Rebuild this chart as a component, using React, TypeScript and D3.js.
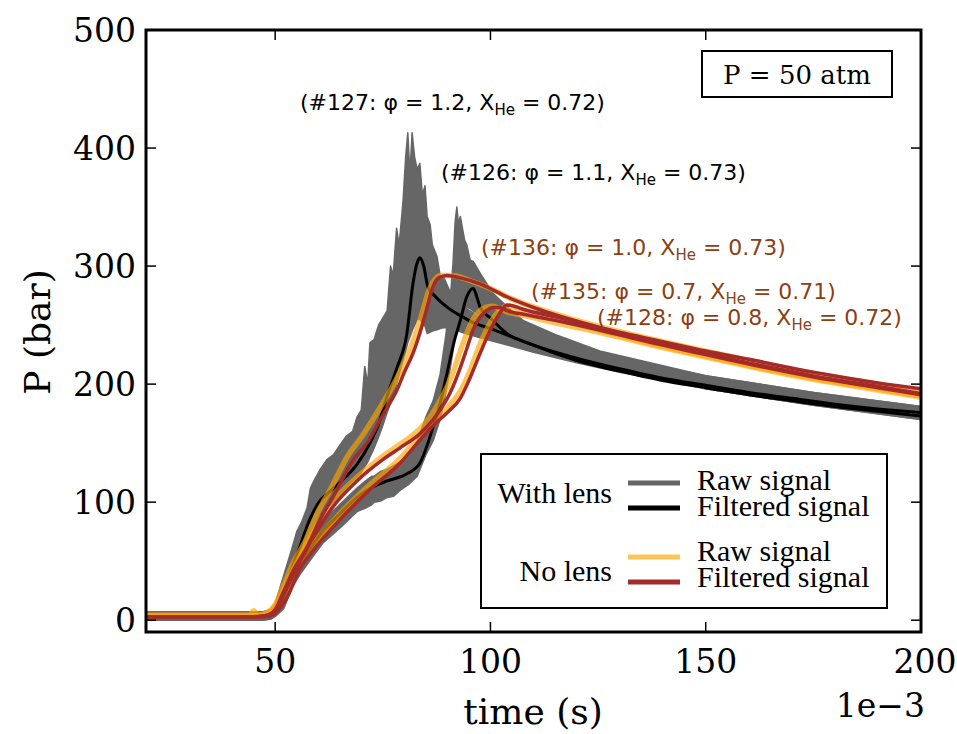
import React from "react";
import * as d3 from "d3";

// ---------- data (time in 1e-3 s, pressure in bar) ----------
const xTicks = [50, 100, 150, 200];
const yTicks = [0, 100, 200, 300, 400, 500];

// raw signals with lens: [time, lower, upper] envelope of the noisy trace
const raw127: [number, number, number][] = [
  [20, 0, 7], [47, 0, 7], [49, 1, 9], [50, 4, 14], [52, 14, 38], [54, 32, 62], [55, 40, 75], [56, 52, 82], [57.4, 62, 95],
  [58.2, 70, 112], [59, 78, 118], [60.5, 86, 128], [62, 95, 136], [63.5, 100, 140], [65, 106, 148], [66.5, 112, 156],
  [68, 118, 160], [69, 121, 172], [70, 125, 178], [70.8, 130, 215], [71.5, 134, 200], [72, 138, 235], [73, 146, 238],
  [74, 155, 250], [75, 165, 256], [76, 176, 262], [76.8, 184, 300], [77.4, 190, 292], [78.2, 200, 332], [78.8, 208, 318],
  [79.7, 220, 355], [80.3, 228, 392], [80.8, 235, 413], [81.3, 240, 378], [81.8, 245, 413], [82.4, 250, 392],
  [83, 255, 382], [83.6, 255, 387], [84.2, 252, 360], [84.8, 249, 368], [85.3, 243, 342], [86, 244, 335],
  [86.5, 245, 318], [87.6, 246, 308], [88.4, 247, 290], [89, 248, 292], [91, 247, 275], [94, 243, 265],
  [97, 240, 258], [100, 237, 253], [105, 232, 247], [110, 227, 241], [120, 218, 231], [130, 210, 222],
  [150, 196, 207], [175, 182, 193], [200, 170, 181],
];
const raw126: [number, number, number][] = [
  [20, 0, 7], [47, 0, 7], [49, 1, 8], [50, 3, 12], [52, 10, 28], [54, 28, 48], [56, 40, 62], [58, 50, 70],
  [61, 65, 84], [65, 78, 98], [69, 92, 112], [71, 95, 118], [72.5, 98, 122], [73, 100, 122], [74.5, 101, 126],
  [76, 104, 128], [77.5, 105, 131], [79, 110, 134], [81, 115, 140], [83, 122, 152], [85, 140, 172],
  [86.7, 152, 186], [88.3, 170, 208], [89.5, 190, 238], [90.5, 210, 265], [91.3, 228, 302], [91.8, 240, 338],
  [92.2, 250, 350], [92.6, 254, 335], [93, 258, 342], [94, 262, 322], [94.5, 265, 318], [95.3, 264, 305],
  [96, 262, 304], [97.6, 258, 294], [99, 254, 286], [100.6, 250, 277], [104, 244, 265], [107.6, 238, 254],
  [115, 228, 242], [125.4, 216, 228], [150, 196, 207], [175, 182, 193], [200, 170, 181],
];

// filtered signals with lens
const filt127: [number, number][] = [
  [20, 3], [45, 3], [48, 4], [50, 9], [52, 25], [54, 45], [56, 65], [58, 85], [60, 99], [63, 110], [66, 120],
  [69, 132], [72, 150], [74.3, 169], [76, 190], [78.3, 214], [80.6, 243], [82, 285], [83, 303], [83.6, 307],
  [84.5, 300], [85.5, 282], [87, 275], [90, 265], [93, 258], [96, 252], [100, 247], [105, 240], [110, 233],
  [120, 222], [130, 213], [140, 205], [150, 199], [160, 193], [170, 188], [180, 183], [190, 179], [200, 176],
];
const filt126: [number, number][] = [
  [20, 3], [45, 3], [48, 4], [49.5, 6], [51.8, 17], [54.2, 42], [57.4, 57], [61.2, 76], [65, 90], [69, 104],
  [72.7, 113], [76, 118], [80.6, 124], [83.6, 133], [86.7, 164], [88.3, 184], [89.9, 209], [91.5, 235], [93, 254],
  [94.5, 274], [96, 281], [97, 272], [97.6, 265], [100, 256], [103.8, 243], [110, 233], [120, 220], [130, 211],
  [140, 203], [150, 197], [160, 191], [170, 186], [180, 181], [190, 177], [200, 173],
];

// raw signals without lens
const raw136: [number, number][] = [
  [20, 4], [44, 4], [45, 8], [46, 4], [48, 6], [50, 13], [51.8, 28], [54, 47], [57, 67], [60, 92], [63, 112],
  [67, 140], [70, 155], [73, 172], [76, 190], [78, 203], [80, 218], [82, 236], [84, 258], [85.5, 277], [87, 288],
  [88.5, 292], [91, 292], [95, 288], [100, 281], [105, 272], [112, 263], [125, 249], [140, 236], [150, 228],
  [160, 220], [175, 209], [190, 200], [200, 194],
];
const raw135: [number, number][] = [
  [20, 4], [46, 4], [48, 6], [50, 12], [52.7, 32], [55.8, 54], [58.8, 74], [63.4, 100], [69, 121], [75, 139],
  [79, 149], [83.6, 162], [86.7, 176], [88.3, 186], [90, 198], [91.3, 210], [93, 228], [94.5, 243], [96, 255],
  [97.5, 262], [99, 265], [100.6, 266], [102, 264], [104, 261], [108, 258], [115, 252], [125, 244], [140, 231],
  [150, 223], [160, 215], [175, 204], [190, 195], [200, 189],
];
const raw128: [number, number][] = [
  [20, 4], [46, 4], [48, 5], [50, 10], [52.7, 24], [55.8, 48], [58.8, 64], [65, 90], [72.7, 117], [79, 137],
  [83, 154], [86.7, 168], [90, 180], [93, 194], [95, 209], [97.6, 234], [100, 252], [102, 262], [103.8, 266],
  [105.5, 265], [108, 261], [115, 255], [125, 246], [140, 232], [150, 224], [160, 216], [175, 205], [190, 196],
  [200, 190],
];

// filtered signals without lens
const filt136: [number, number][] = [
  [20, 3], [45, 3], [48, 4], [50, 9], [51.8, 23], [54.2, 42], [57.4, 62], [60.4, 85], [63.4, 104], [68, 135],
  [71.3, 150], [74.3, 169], [76, 180], [78.3, 195], [80, 210], [82, 226], [84, 248], [85.3, 265], [86.7, 283],
  [88, 290], [89.9, 292], [93, 290], [97.6, 285], [103.8, 274], [111.5, 263], [125.4, 248], [140, 236], [150, 228],
  [160, 221], [175, 210], [190, 201], [200, 196],
];
const filt135: [number, number][] = [
  [20, 3], [46, 3], [48, 4], [50, 8], [52.7, 27], [55.8, 50], [58.8, 70], [63.4, 96], [69, 118], [75, 136],
  [79, 146], [83.6, 158], [86.7, 170], [88.3, 178], [90, 188], [91.3, 198], [93, 214], [94.5, 230], [96, 246],
  [97.5, 256], [99, 262], [100.6, 265], [102, 265], [104, 262], [108, 259], [115, 254], [125, 246], [140, 233],
  [150, 225], [160, 217], [175, 206], [190, 197], [200, 191],
];
const filt128: [number, number][] = [
  [20, 3], [46, 3], [48, 3], [50, 6], [52.7, 19], [55.8, 44], [58.8, 59], [65, 85], [72.7, 113], [79, 133],
  [83, 150], [86.7, 165], [90, 176], [93, 188], [95, 203], [97.6, 226], [100, 246], [102, 259], [103.8, 267],
  [105.5, 266], [108, 263], [115, 257], [125, 248], [140, 234], [150, 226], [160, 218], [175, 207], [190, 198],
  [200, 192],
];

const annotations = [
  { shot: "#127", phi: "1.2", xhe: "0.72", color: "#000000" },
  { shot: "#126", phi: "1.1", xhe: "0.73", color: "#000000" },
  { shot: "#136", phi: "1.0", xhe: "0.73", color: "#8d3f12" },
  { shot: "#135", phi: "0.7", xhe: "0.71", color: "#8d3f12" },
  { shot: "#128", phi: "0.8", xhe: "0.72", color: "#8d3f12" },
];
const annoPos = [
  [300, 110], [441, 180], [481, 255], [531, 299], [597, 325],
];

const GREY = "#666666";
const ORANGE = "#FFA500";
const RED = "#A52A2A";

export default function App() {
  const W = 957, H = 734;
  const L = 146, R = 921, T = 30, B = 632;
  const x = d3.scaleLinear().domain([20, 200]).range([L, R]);
  const y = d3.scaleLinear().domain([-10, 500]).range([B, T]);

  const line = d3.line<[number, number]>().x(d => x(d[0])).y(d => y(d[1])).curve(d3.curveMonotoneX);
  const area = d3.area<[number, number, number]>().x(d => x(d[0])).y0(d => y(d[1])).y1(d => y(d[2]));

  const tickFont = "DejaVu Serif";
  const tl = 10;

  return (
    <svg width={W} height={H} style={{ position: "absolute", left: 0, top: 0, background: "#fff" }}>
      <defs>
        <clipPath id="plot">
          <rect x={L} y={T} width={R - L} height={B - T} />
        </clipPath>
      </defs>
      <rect x={0} y={0} width={W} height={H} fill="#fff" />
      <g clipPath="url(#plot)">
        {[raw127, raw126].map((d, i) => (
          <path key={"ra" + i} d={area(d) || ""} fill={GREY} stroke={GREY} strokeWidth={1.5} strokeLinejoin="round" />
        ))}
        {[filt127, filt126].map((d, i) => (
          <path key={"fb" + i} d={line(d) || ""} fill="none" stroke="#000" strokeWidth={3} strokeLinejoin="round" />
        ))}
        {[raw136, raw135, raw128].map((d, i) => (
          <path key={"ro" + i} d={line(d) || ""} fill="none" stroke={ORANGE} strokeOpacity={0.65} strokeWidth={5.5} strokeLinejoin="round" />
        ))}
        {[filt136, filt135, filt128].map((d, i) => (
          <path key={"fr" + i} d={line(d) || ""} fill="none" stroke={RED} strokeWidth={3.5} strokeLinejoin="round" />
        ))}
      </g>

      {/* ticks (inward, all sides) */}
      {xTicks.map(t => (
        <g key={"xt" + t}>
          <line x1={x(t)} x2={x(t)} y1={B} y2={B - tl} stroke="#000" strokeWidth={1.5} />
          <line x1={x(t)} x2={x(t)} y1={T} y2={T + tl} stroke="#000" strokeWidth={1.5} />
          <text x={t === 200 ? x(t) + 4 : x(t)} y={673} textAnchor="middle" fontFamily={tickFont} fontSize={33}>{t}</text>
        </g>
      ))}
      {yTicks.map(t => (
        <g key={"yt" + t}>
          <line x1={L} x2={L + tl} y1={y(t)} y2={y(t)} stroke="#000" strokeWidth={1.5} />
          <line x1={R} x2={R - tl} y1={y(t)} y2={y(t)} stroke="#000" strokeWidth={1.5} />
          <text x={136} y={y(t) + 12} textAnchor="end" fontFamily={tickFont} fontSize={33}>{t}</text>
        </g>
      ))}
      <rect x={L} y={T} width={R - L} height={B - T} fill="none" stroke="#000" strokeWidth={3} />

      <text x={925} y={717} textAnchor="end" fontFamily={tickFont} fontSize={33}>1e−3</text>
      <text x={533} y={724} textAnchor="middle" fontFamily={tickFont} fontSize={36}>time (s)</text>
      <text transform="translate(50,332) rotate(-90)" textAnchor="middle" fontFamily={tickFont} fontSize={36}>P (bar)</text>

      {/* P = 50 atm box */}
      <rect x={702} y={51} width={190} height={46} fill="#fff" stroke="#000" strokeWidth={2} />
      <text x={797} y={84} textAnchor="middle" fontFamily={tickFont} fontSize={26}>P = 50 atm</text>

      {/* annotations */}
      {annotations.map((a, i) => (
        <text key={a.shot} x={annoPos[i][0]} y={annoPos[i][1]} fontFamily="DejaVu Sans" fontSize={22} fill={a.color}>
          {`(${a.shot}: φ = ${a.phi}, X`}
          <tspan fontSize={15} dy={5}>He</tspan>
          <tspan dy={-5}>{` = ${a.xhe})`}</tspan>
        </text>
      ))}

      {/* legend */}
      <rect x={481} y={454} width={406} height={154} fill="#fff" stroke="#000" strokeWidth={2} />
      <g fontFamily="Liberation Serif" fontSize={30}>
        <text x={612} y={503} textAnchor="end">With lens</text>
        <text x={612} y={581} textAnchor="end">No lens</text>
        <text x={697} y={490}>Raw signal</text>
        <text x={697} y={516}>Filtered signal</text>
        <text x={697} y={561}>Raw signal</text>
        <text x={697} y={587}>Filtered signal</text>
      </g>
      <line x1={628} x2={680} y1={483} y2={483} stroke={GREY} strokeWidth={5} />
      <line x1={628} x2={680} y1={508} y2={508} stroke="#000" strokeWidth={5} />
      <line x1={628} x2={680} y1={557} y2={557} stroke={ORANGE} strokeOpacity={0.65} strokeWidth={5} />
      <line x1={628} x2={680} y1={582} y2={582} stroke={RED} strokeWidth={5} />
    </svg>
  );
}
